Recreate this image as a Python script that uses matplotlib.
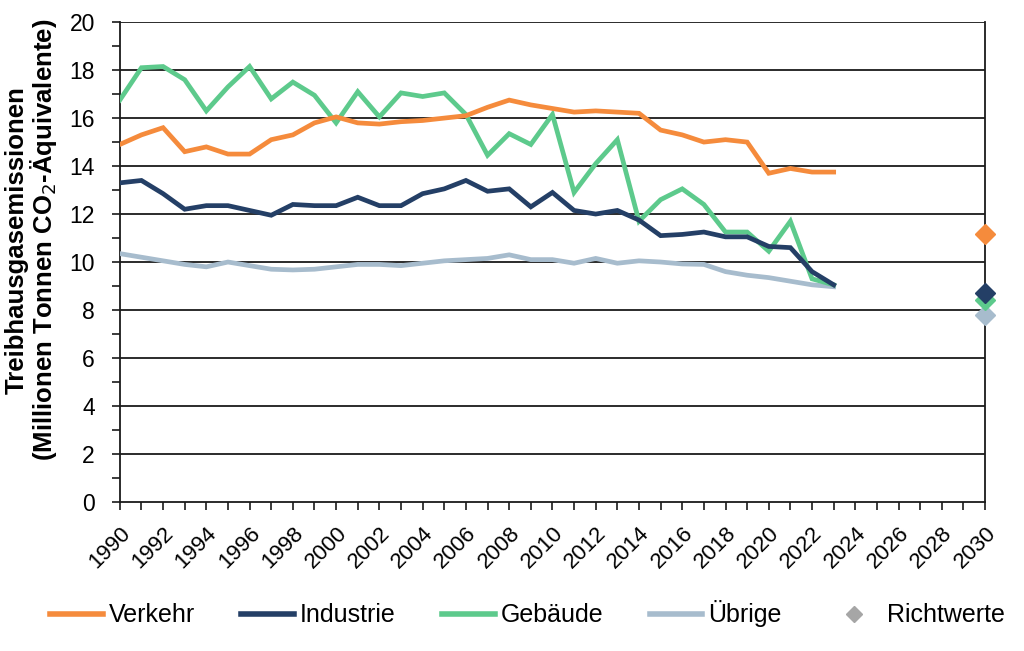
import matplotlib.pyplot as plt
from matplotlib.lines import Line2D
import numpy as np

plt.rcParams['font.family'] = ['Liberation Sans', 'DejaVu Sans']

# Jahre und Emissionen (Mio. t CO2-Äquivalente)
years = list(range(1990, 2024))
verkehr = [14.9, 15.3, 15.6, 14.6, 14.8, 14.5, 14.5, 15.1, 15.3, 15.8,
           16.05, 15.8, 15.75, 15.85, 15.9, 16.0, 16.1, 16.45, 16.75, 16.55,
           16.4, 16.25, 16.3, 16.25, 16.2, 15.5, 15.3, 15.0, 15.1, 15.0,
           13.7, 13.9, 13.75, 13.75]
industrie = [13.3, 13.4, 12.85, 12.2, 12.35, 12.35, 12.15, 11.95, 12.4, 12.35,
             12.35, 12.7, 12.35, 12.35, 12.85, 13.05, 13.4, 12.95, 13.05, 12.3,
             12.9, 12.15, 12.0, 12.15, 11.75, 11.1, 11.15, 11.25, 11.05, 11.05,
             10.65, 10.6, 9.6, 9.05]
gebaeude = [16.75, 18.1, 18.15, 17.6, 16.3, 17.3, 18.15, 16.8, 17.5, 16.95,
            15.8, 17.1, 16.05, 17.05, 16.9, 17.05, 16.15, 14.45, 15.35, 14.9,
            16.15, 12.9, 14.1, 15.1, 11.7, 12.6, 13.05, 12.4, 11.25, 11.25,
            10.45, 11.7, 9.3, 9.05]
uebrige = [10.35, 10.2, 10.05, 9.9, 9.8, 10.0, 9.85, 9.7, 9.67, 9.7,
           9.8, 9.9, 9.9, 9.85, 9.95, 10.05, 10.1, 10.15, 10.3, 10.1,
           10.1, 9.95, 10.15, 9.95, 10.05, 10.0, 9.92, 9.9, 9.6, 9.45,
           9.35, 9.2, 9.05, 8.97]

# Richtwerte 2030
ziel_jahr = 2030
ziel_werte = [11.15, 8.7, 8.4, 7.8]

names = ['Verkehr', 'Industrie', 'Gebäude', 'Übrige']
colors = ['#F58B3C', '#243F66', '#5DCA8C', '#A7BCCD']
ziel_farbe = '#A6A6A6'

fig = plt.figure(figsize=(10.24, 6.51), dpi=100)
ax = fig.add_axes([0.117, 0.229, 0.845, 0.737])

# horizontale Gitterlinien
for yv in range(2, 21, 2):
    ax.axhline(yv, color='#1a1a1a', lw=1.3, zorder=1)

series = [verkehr, industrie, gebaeude, uebrige]
for vals, name, c in zip(series[::-1], names[::-1], colors[::-1]):
    ax.plot(years, vals, color=c, lw=3.4, label=name, zorder=3,
            solid_joinstyle='miter')

for val, c in zip(ziel_werte[::-1], colors[::-1]):
    ax.plot([ziel_jahr], [val], marker='D', ms=10, color=c, ls='none',
            zorder=4, clip_on=False)

ax.set_xlim(1990, 2030)
ax.set_ylim(0, 20)
ax.set_xticks(range(1990, 2031, 2))
ax.set_xticks(range(1990, 2031, 1), minor=True)
ax.set_yticks(range(0, 21, 2))
ax.set_yticks(range(1, 20, 2), minor=True)
ax.set_xticklabels([str(y) for y in range(1990, 2031, 2)], rotation=45,
                   ha='right', rotation_mode='anchor', fontsize=16)
ax.tick_params(axis='y', labelsize=16.5, pad=12)
ax.tick_params(which='both', direction='out', length=6, width=1.2,
               color='#1a1a1a')
ax.tick_params(axis='x', pad=9)

for side in ['left', 'bottom', 'right']:
    ax.spines[side].set_color('#1a1a1a')
    ax.spines[side].set_linewidth(1.3)
ax.spines['top'].set_visible(False)

fig.text(0.031, 0.632, 'Treibhausgasemissionen\n(Millionen Tonnen CO$_2$-Äquivalente)',
         fontsize=18.5, fontweight='bold', rotation=90, ha='center',
         va='center', linespacing=0.95)

handles = [Line2D([], [], color=c, lw=4) for c in colors]
handles.append(Line2D([], [], color=ziel_farbe, marker='D', ms=8, ls='none'))
fig.legend(handles, names + ['Richtwerte'], loc='center',
           bbox_to_anchor=(0.515, 0.057), ncol=5, frameon=False, fontsize=18,
           handlelength=2.1, handletextpad=0.25, columnspacing=1.85)

fig.savefig('out.png', dpi=100)
